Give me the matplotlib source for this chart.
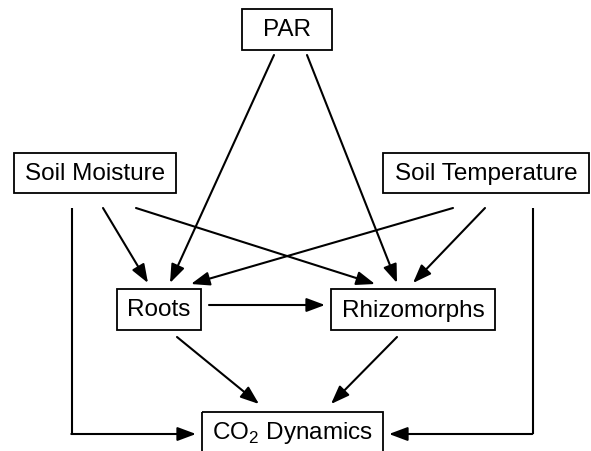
import matplotlib.pyplot as plt
from matplotlib.patches import Rectangle

plt.rcParams['font.family'] = ['Liberation Sans', 'DejaVu Sans']
plt.rcParams['mathtext.fontset'] = 'custom'
plt.rcParams['mathtext.rm'] = 'Liberation Sans'

# nodes of the diagram
labels = ['PAR', 'Soil Moisture', 'Soil Temperature', 'Roots', 'Rhizomorphs',
          'CO$_\\mathregular{2}$ Dynamics']
# box layout in pixels: left, top, right, bottom
boxes = [(242, 9, 332, 50), (14, 153, 176, 193), (383, 153, 589, 193),
         (117, 289, 201, 330), (331, 289, 495, 330), (202, 412, 383, 456)]

# straight arrows: (start x, start y, end x, end y)
arrows = [(274, 55, 170, 283), (307, 55, 397, 283),
          (103, 208, 148, 283), (136, 208, 375, 284),
          (453, 208, 191, 284), (485, 208, 413, 283),
          (209, 305, 325, 305),
          (177, 337, 259, 404), (397, 337, 331, 404)]
# elbow arrows into CO2 box: (x of vertical, top y, y of horizontal, end x)
elbows = [(72, 208, 434, 196), (533, 208, 434, 389)]

fig = plt.figure(figsize=(5.91, 4.51), dpi=100)
ax = fig.add_axes([0, 0, 1, 1])
ax.set_xlim(0, 591)
ax.set_ylim(451, 0)
ax.axis('off')

for lab, (x0, y0, x1, y1) in zip(labels, boxes):
    ax.add_patch(Rectangle((x0, y0), x1 - x0, y1 - y0, fill=False,
                           edgecolor='black', linewidth=1.3))
    yc = (y0 + y1) / 2 + 1 if y1 <= 451 else 433
    ax.text((x0 + x1) / 2, yc, lab, ha='center', va='center', fontsize=17.5)

aprops = dict(arrowstyle='-|>,head_length=0.75,head_width=0.28', color='black',
              lw=1.5, shrinkA=0, shrinkB=0, mutation_scale=15)

for x0, y0, x1, y1 in arrows:
    ax.annotate('', xy=(x1, y1), xytext=(x0, y0), arrowprops=aprops)

for xv, yt, yh, xe in elbows:
    ax.plot([xv, xv], [yt, yh], color='black', lw=1.5, solid_capstyle='butt')
    ax.annotate('', xy=(xe, yh), xytext=(xv - 0.7, yh), arrowprops=aprops)

fig.savefig('out.png', dpi=100)
